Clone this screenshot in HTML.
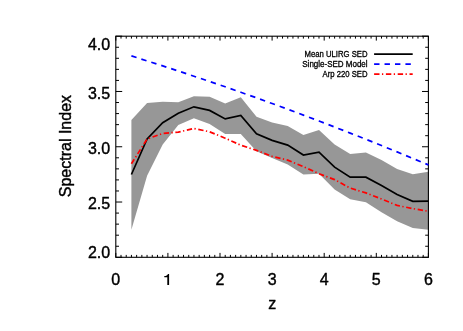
<!DOCTYPE html>
<html><head><meta charset="utf-8"><style>
html,body{margin:0;padding:0;background:#fff;}
svg{display:block;will-change:transform;transform:translateZ(0)}
text{font-family:"Liberation Sans",sans-serif;fill:#000}
</style></head><body>
<svg width="463" height="331" viewBox="0 0 463 331">
<rect width="463" height="331" fill="#fff"/>
<path d="M115.80 257.3v-4.4M115.80 36.2v4.4M121.01 257.3v-2.4M121.01 36.2v2.4M126.22 257.3v-2.4M126.22 36.2v2.4M131.43 257.3v-2.4M131.43 36.2v2.4M136.64 257.3v-2.4M136.64 36.2v2.4M141.85 257.3v-2.4M141.85 36.2v2.4M147.06 257.3v-2.4M147.06 36.2v2.4M152.27 257.3v-2.4M152.27 36.2v2.4M157.48 257.3v-2.4M157.48 36.2v2.4M162.69 257.3v-2.4M162.69 36.2v2.4M167.90 257.3v-4.4M167.90 36.2v4.4M173.11 257.3v-2.4M173.11 36.2v2.4M178.32 257.3v-2.4M178.32 36.2v2.4M183.53 257.3v-2.4M183.53 36.2v2.4M188.74 257.3v-2.4M188.74 36.2v2.4M193.95 257.3v-2.4M193.95 36.2v2.4M199.16 257.3v-2.4M199.16 36.2v2.4M204.37 257.3v-2.4M204.37 36.2v2.4M209.58 257.3v-2.4M209.58 36.2v2.4M214.79 257.3v-2.4M214.79 36.2v2.4M220.00 257.3v-4.4M220.00 36.2v4.4M225.21 257.3v-2.4M225.21 36.2v2.4M230.42 257.3v-2.4M230.42 36.2v2.4M235.63 257.3v-2.4M235.63 36.2v2.4M240.84 257.3v-2.4M240.84 36.2v2.4M246.05 257.3v-2.4M246.05 36.2v2.4M251.26 257.3v-2.4M251.26 36.2v2.4M256.47 257.3v-2.4M256.47 36.2v2.4M261.68 257.3v-2.4M261.68 36.2v2.4M266.89 257.3v-2.4M266.89 36.2v2.4M272.10 257.3v-4.4M272.10 36.2v4.4M277.31 257.3v-2.4M277.31 36.2v2.4M282.52 257.3v-2.4M282.52 36.2v2.4M287.73 257.3v-2.4M287.73 36.2v2.4M292.94 257.3v-2.4M292.94 36.2v2.4M298.15 257.3v-2.4M298.15 36.2v2.4M303.36 257.3v-2.4M303.36 36.2v2.4M308.57 257.3v-2.4M308.57 36.2v2.4M313.78 257.3v-2.4M313.78 36.2v2.4M318.99 257.3v-2.4M318.99 36.2v2.4M324.20 257.3v-4.4M324.20 36.2v4.4M329.41 257.3v-2.4M329.41 36.2v2.4M334.62 257.3v-2.4M334.62 36.2v2.4M339.83 257.3v-2.4M339.83 36.2v2.4M345.04 257.3v-2.4M345.04 36.2v2.4M350.25 257.3v-2.4M350.25 36.2v2.4M355.46 257.3v-2.4M355.46 36.2v2.4M360.67 257.3v-2.4M360.67 36.2v2.4M365.88 257.3v-2.4M365.88 36.2v2.4M371.09 257.3v-2.4M371.09 36.2v2.4M376.30 257.3v-4.4M376.30 36.2v4.4M381.51 257.3v-2.4M381.51 36.2v2.4M386.72 257.3v-2.4M386.72 36.2v2.4M391.93 257.3v-2.4M391.93 36.2v2.4M397.14 257.3v-2.4M397.14 36.2v2.4M402.35 257.3v-2.4M402.35 36.2v2.4M407.56 257.3v-2.4M407.56 36.2v2.4M412.77 257.3v-2.4M412.77 36.2v2.4M417.98 257.3v-2.4M417.98 36.2v2.4M423.19 257.3v-2.4M423.19 36.2v2.4M428.40 257.3v-4.4M428.40 36.2v4.4M115.8 257.30h6.4M428.4 257.30h-6.4M115.8 246.25h3.2M428.4 246.25h-3.2M115.8 235.19h3.2M428.4 235.19h-3.2M115.8 224.14h3.2M428.4 224.14h-3.2M115.8 213.08h3.2M428.4 213.08h-3.2M115.8 202.03h6.4M428.4 202.03h-6.4M115.8 190.97h3.2M428.4 190.97h-3.2M115.8 179.92h3.2M428.4 179.92h-3.2M115.8 168.86h3.2M428.4 168.86h-3.2M115.8 157.81h3.2M428.4 157.81h-3.2M115.8 146.75h6.4M428.4 146.75h-6.4M115.8 135.69h3.2M428.4 135.69h-3.2M115.8 124.64h3.2M428.4 124.64h-3.2M115.8 113.59h3.2M428.4 113.59h-3.2M115.8 102.53h3.2M428.4 102.53h-3.2M115.8 91.48h6.4M428.4 91.48h-6.4M115.8 80.42h3.2M428.4 80.42h-3.2M115.8 69.36h3.2M428.4 69.36h-3.2M115.8 58.31h3.2M428.4 58.31h-3.2M115.8 47.26h3.2M428.4 47.26h-3.2M115.8 36.20h6.4M428.4 36.20h-6.4" stroke="#000" stroke-width="1" fill="none"/>
<polygon points="131.4,119.9 147.1,103.1 162.7,101.8 178.3,102.2 193.9,96.3 209.6,96.8 225.2,103.5 240.8,97.3 256.5,116.7 272.1,122.6 287.7,125.9 303.4,135.0 319.0,130.0 334.6,144.5 350.2,153.9 365.9,152.5 381.5,160.0 397.1,169.0 412.8,174.3 428.4,171.8 428.4,229.8 412.8,228.0 397.1,221.3 381.5,212.3 365.9,202.2 350.2,199.3 334.6,189.5 319.0,173.8 303.4,174.6 287.7,164.5 272.1,158.1 256.5,151.3 240.8,134.0 225.2,134.0 209.6,124.0 193.9,118.2 178.3,125.0 162.7,144.5 147.1,175.8 131.4,229.7" fill="#979797"/>
<rect x="115.8" y="36.2" width="312.6" height="221.1" fill="none" stroke="#000" stroke-width="1.1"/>
<polyline points="131.4,174.5 147.1,139.0 162.7,122.7 178.3,113.2 193.9,106.8 209.6,110.4 225.2,118.9 240.8,115.5 256.5,133.7 272.1,140.4 287.7,145.1 303.4,155.0 319.0,152.2 334.6,167.2 350.2,177.1 365.9,177.2 381.5,185.6 397.1,194.5 412.8,201.4 428.4,201.2" fill="none" stroke="#000" stroke-width="1.7" stroke-linejoin="miter"/>
<polyline points="131.4,55.9 147.1,60.9 162.7,65.9 178.3,71.0 193.9,76.2 209.6,81.5 225.2,86.8 240.8,92.3 256.5,97.8 272.1,103.5 287.7,109.2 303.4,115.1 319.0,121.0 334.6,127.0 350.2,133.1 365.9,139.3 381.5,145.5 397.1,151.9 412.8,158.4 428.4,164.9" fill="none" stroke="#0000ff" stroke-width="1.7" stroke-dasharray="5.4 5.04"/>
<polyline points="131.4,163.8 147.1,139.0 162.7,133.5 178.3,132.1 193.9,128.5 209.6,131.8 225.2,138.2 240.8,145.2 256.5,150.4 272.1,156.4 287.7,160.1 303.4,166.7 319.0,173.7 334.6,179.6 350.2,188.1 365.9,192.9 381.5,199.0 397.1,205.4 412.8,208.6 428.4,211.3" fill="none" stroke="#ff0000" stroke-width="1.7" stroke-dasharray="5.36 2.43 1.3 2.63"/>
<g font-size="16" stroke="#000" stroke-width="0.4" stroke-linejoin="round"><text x="115.8" y="285.2" text-anchor="middle">0</text><text x="220.0" y="285.2" text-anchor="middle">2</text><text x="272.1" y="285.2" text-anchor="middle">3</text><text x="324.2" y="285.2" text-anchor="middle">4</text><text x="376.3" y="285.2" text-anchor="middle">5</text><text x="428.4" y="285.2" text-anchor="middle">6</text><path d="M169.1 273.9V285.1H167.3V277.3H164.3V276C166.3 275.9 167.4 275.3 167.9 273.9Z" stroke="none"/><text x="110.2" y="49.5" text-anchor="end">4.0</text><text x="110.2" y="99.1" text-anchor="end">3.5</text><text x="110.2" y="154.3" text-anchor="end">3.0</text><text x="110.2" y="209.4" text-anchor="end">2.5</text><text x="110.2" y="257.5" text-anchor="end">2.0</text>
<text x="272.2" y="309" text-anchor="middle">z</text>
<text transform="translate(71.0,146.1) rotate(-90)" text-anchor="middle">Spectral Index</text>
</g>
<g font-size="8.3" text-anchor="end" stroke="#000" stroke-width="0.3" stroke-linejoin="round">
<text transform="translate(367.5,56.9) scale(0.93,1)">Mean ULIRG SED</text>
<text transform="translate(367.6,66.8) scale(0.965,1)">Single-SED Model</text>
<text transform="translate(367.5,76.7) scale(0.93,1)">Arp 220 SED</text>
</g>
<path d="M374.1 54.1H412.7" stroke="#000" stroke-width="1.7"/>
<path d="M374.1 64.2H412.7" stroke="#0000ff" stroke-width="1.7" stroke-dasharray="5.4 5.04"/>
<path d="M374.1 74.2H412.7" stroke="#ff0000" stroke-width="1.7" stroke-dasharray="5.4 2.45 1.3 2.65"/>
</svg>
</body></html>
